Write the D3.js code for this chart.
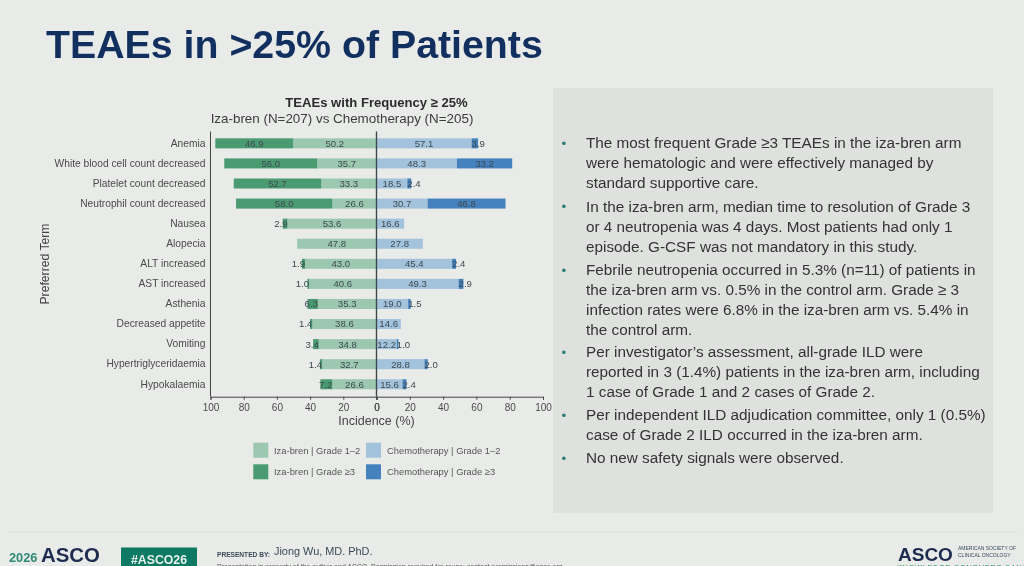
<!DOCTYPE html>
<html>
<head>
<meta charset="utf-8">
<script src="https://cdn.jsdelivr.net/npm/d3@7"></script>
<style>
  html, body { margin: 0; padding: 0; background: #e9ebe9; overflow: hidden; }
  svg { display: block; font-family: "Liberation Sans", Arial, sans-serif; filter: blur(0.35px); }
</style>
</head>
<body>
<div id="chart"></div>
<script>
const categories = ["Anemia", "White blood cell count decreased", "Platelet count decreased",
  "Neutrophil count decreased", "Nausea", "Alopecia", "ALT increased", "AST increased", "Asthenia",
  "Decreased appetite", "Vomiting", "Hypertriglyceridaemia", "Hypokalaemia"];
const izaLow = [50.2, 35.7, 33.3, 26.6, 53.6, 47.8, 43.0, 40.6, 35.3, 38.6, 34.8, 32.7, 26.6];
const izaHigh = [46.9, 56.0, 52.7, 58.0, 2.9, 0, 1.9, 1.0, 6.3, 1.4, 3.4, 1.4, 7.2];
const chemoLow = [57.1, 48.3, 18.5, 30.7, 16.6, 27.8, 45.4, 49.3, 19.0, 14.6, 12.2, 28.8, 15.6];
const chemoHigh = [3.9, 33.2, 2.4, 46.8, 0, 0, 2.4, 2.9, 1.5, 0, 1.0, 2.0, 2.4];
const xTicks = [100, 80, 60, 40, 20, 0];

const bullets = [
  ["The most frequent Grade \u22653 TEAEs in the iza-bren arm", "were hematologic and were effectively managed by", "standard supportive care."],
  ["In the iza-bren arm, median time to resolution of Grade 3", "or 4 neutropenia was 4 days. Most patients had only 1", "episode. G-CSF was not mandatory in this study."],
  ["Febrile neutropenia occurred in 5.3% (n=11) of patients in", "the iza-bren arm vs. 0.5% in the control arm. Grade \u2265 3", "infection rates were 6.8% in the iza-bren arm vs. 5.4% in", "the control arm."],
  ["Per investigator\u2019s assessment, all-grade ILD were", "reported in 3 (1.4%) patients in the iza-bren arm, including", "1 case of Grade 1 and 2 cases of Grade 2."],
  ["Per independent ILD adjudication committee, only 1 (0.5%)", "case of Grade 2 ILD occurred in the iza-bren arm."],
  ["No new safety signals were observed."]
];
const bulletBaselines = [148, 211.5, 275, 357, 420, 463];

const colors = { izaLow: "#9cc7b0", izaHigh: "#4a9a72", chemoLow: "#a3c2dc", chemoHigh: "#4481bd" };
const legendRows = [
  ["Iza-bren | Grade 1\u20132", colors.izaLow, "Chemotherapy | Grade 1\u20132", colors.chemoLow],
  ["Iza-bren | Grade \u22653", colors.izaHigh, "Chemotherapy | Grade \u22653", colors.chemoHigh]
];

const svg = d3.select("#chart").append("svg").attr("width", 1024).attr("height", 566);
svg.append("rect").attr("width", 1024).attr("height", 566).attr("fill", "#e9ebe9");

// slide title
svg.append("text").attr("x", 46).attr("y", 57.5).attr("font-size", 39.3).attr("font-weight", 700)
  .attr("fill", "#12305f").text("TEAEs in >25% of Patients");

// right hand text panel
svg.append("rect").attr("x", 553).attr("y", 88).attr("width", 440).attr("height", 425).attr("fill", "#dfe1df");
const notes = svg.append("g");
bullets.forEach((lines, i) => {
  notes.append("text").attr("x", 561.5).attr("y", bulletBaselines[i] - 0.5).attr("font-size", 13.5)
    .attr("fill", "#2f7f78").text("\u2022");
  lines.forEach((line, j) => {
    notes.append("text").attr("x", 586).attr("y", bulletBaselines[i] + j * 20)
      .attr("font-size", 15.3).attr("fill", "#333").text(line);
  });
});

// chart
const xLeft = d3.scaleLinear().domain([100, 0]).range([210.5, 376.5]);
const xRight = d3.scaleLinear().domain([0, 100]).range([376.5, 543]);
const y = d3.scaleBand().domain(categories).range([133.3, 394.3]).paddingInner(0.5).paddingOuter(0.25);
const rows = categories.map((name, i) => ({ name, i }));

const segments = [
  { side: "left", scale: xLeft, start: () => 0, val: i => izaLow[i], color: colors.izaLow },
  { side: "left", scale: xLeft, start: i => izaLow[i], val: i => izaHigh[i], color: colors.izaHigh },
  { side: "right", scale: xRight, start: () => 0, val: i => chemoLow[i], color: colors.chemoLow },
  { side: "right", scale: xRight, start: i => chemoLow[i], val: i => chemoHigh[i], color: colors.chemoHigh }
];

const chart = svg.append("g");
segments.forEach(seg => {
  const data = rows.filter(d => seg.val(d.i) > 0);
  chart.append("g").selectAll("rect").data(data).join("rect")
    .attr("x", d => Math.min(seg.scale(seg.start(d.i)), seg.scale(seg.start(d.i) + seg.val(d.i))))
    .attr("y", d => y(d.name))
    .attr("width", d => Math.abs(seg.scale(seg.start(d.i) + seg.val(d.i)) - seg.scale(seg.start(d.i))))
    .attr("height", y.bandwidth())
    .attr("fill", seg.color);
});

// axes
const axisY = 396.7;
const styleAxis = g => {
  g.selectAll("path, line").attr("stroke", "#444");
  g.selectAll("text").attr("font-size", 10).attr("fill", "#4a4a4a").attr("font-family", "Liberation Sans");
};
chart.append("g").attr("transform", `translate(0,${axisY})`)
  .call(d3.axisBottom(xLeft).tickValues(xTicks).tickSize(3).tickPadding(4)).call(styleAxis);
chart.append("g").attr("transform", `translate(0,${axisY})`)
  .call(d3.axisBottom(xRight).tickValues(xTicks).tickSize(3).tickPadding(4)).call(styleAxis);
const yAxis = chart.append("g").attr("transform", "translate(210.5,0)")
  .call(d3.axisLeft(y).tickSize(0).tickPadding(5)).call(styleAxis);
yAxis.selectAll("text").attr("font-size", 10.25);
yAxis.select("path").attr("d", `M0,131.5V${axisY}`);
chart.append("line").attr("x1", xLeft(0)).attr("x2", xLeft(0)).attr("y1", 131.5).attr("y2", axisY)
  .attr("stroke", "#3c4a50").attr("stroke-width", 1.4);

// labels wider than their segment hang off its inner edge
const labelWidth = 14;
segments.forEach(seg => {
  const data = rows.filter(d => seg.val(d.i) > 0);
  const isNarrow = d => Math.abs(seg.scale(seg.val(d.i)) - seg.scale(0)) < labelWidth;
  chart.append("g").selectAll("text").data(data).join("text")
    .attr("x", d => isNarrow(d) ? seg.scale(seg.start(d.i)) : seg.scale(seg.start(d.i) + seg.val(d.i) / 2))
    .attr("y", d => y(d.name) + y.bandwidth() / 2)
    .attr("dy", "0.36em")
    .attr("text-anchor", d => !isNarrow(d) ? "middle" : seg.side === "left" ? "end" : "start")
    .attr("font-size", 9.6)
    .attr("fill", "#3c4a50").text(d => seg.val(d.i).toFixed(1));
});

// chart titles
svg.append("text").attr("x", 376.5).attr("y", 107).attr("text-anchor", "middle").attr("font-size", 13.1)
  .attr("font-weight", 700).attr("fill", "#2b2b2b").text("TEAEs with Frequency \u2265 25%");
svg.append("text").attr("x", 342).attr("y", 123).attr("text-anchor", "middle").attr("font-size", 13.4)
  .attr("fill", "#3c3c3c").text("Iza-bren (N=207) vs Chemotherapy (N=205)");
svg.append("text").attr("x", 376.5).attr("y", 424.5).attr("text-anchor", "middle").attr("font-size", 12.5)
  .attr("fill", "#444").text("Incidence (%)");
svg.append("text").attr("transform", "translate(49,264) rotate(-90)").attr("text-anchor", "middle")
  .attr("font-size", 12.2).attr("fill", "#444").text("Preferred Term");

// legend
const legend = svg.append("g");
legendRows.forEach((row, i) => {
  const top = 442.7 + i * 21.6;
  legend.append("rect").attr("x", 253.3).attr("y", top).attr("width", 15).attr("height", 15).attr("fill", row[1]);
  legend.append("text").attr("x", 274).attr("y", top + 11).attr("font-size", 9.4).attr("fill", "#555").text(row[0]);
  legend.append("rect").attr("x", 366).attr("y", top).attr("width", 15).attr("height", 15).attr("fill", row[3]);
  legend.append("text").attr("x", 387).attr("y", top + 11).attr("font-size", 9.4).attr("fill", "#555").text(row[2]);
});

// footer, cut by the bottom of the photo as in the slide
const footer = svg.append("g");
footer.append("line").attr("x1", 9).attr("x2", 1017).attr("y1", 532).attr("y2", 532).attr("stroke", "#dcdfdc");
footer.append("text").attr("x", 9).attr("y", 562).attr("font-size", 12.8).attr("font-weight", 700).attr("fill", "#2e8a72").text("2026");
footer.append("text").attr("x", 41).attr("y", 562).attr("font-size", 20.4).attr("font-weight", 700).attr("fill", "#1d2b4f").text("ASCO");
footer.append("text").attr("x", 9).attr("y", 572).attr("font-size", 9.5).attr("letter-spacing", 0.5).attr("fill", "#2e8a72").text("ANNUAL MEETING");
footer.append("rect").attr("x", 121).attr("y", 547.5).attr("width", 76).attr("height", 19).attr("fill", "#0f7a63");
footer.append("text").attr("x", 159).attr("y", 563.5).attr("text-anchor", "middle").attr("font-size", 12.3).attr("font-weight", 700).attr("fill", "#e8f2ee").text("#ASCO26");
footer.append("text").attr("x", 217).attr("y", 557).attr("font-size", 6.6).attr("font-weight", 700).attr("fill", "#3a4a5a").text("PRESENTED BY:");
footer.append("text").attr("x", 274).attr("y", 555).attr("font-size", 10.9).attr("fill", "#3a4a5a").text("Jiong Wu, MD. PhD.");
footer.append("text").attr("x", 217).attr("y", 569).attr("font-size", 7).attr("fill", "#555").text("Presentation is property of the author and ASCO. Permission required for reuse; contact permissions@asco.org.");
footer.append("text").attr("x", 898).attr("y", 561).attr("font-size", 19).attr("font-weight", 700).attr("fill", "#1d2b4f").text("ASCO");
footer.append("text").attr("x", 958).attr("y", 550).attr("font-size", 5).attr("fill", "#3a4a5a").text("AMERICAN SOCIETY OF");
footer.append("text").attr("x", 958).attr("y", 557).attr("font-size", 5).attr("fill", "#3a4a5a").text("CLINICAL ONCOLOGY");
footer.append("text").attr("x", 897).attr("y", 570).attr("font-size", 7.5).attr("letter-spacing", 0.6).attr("fill", "#2e8a72").text("KNOWLEDGE CONQUERS CANCER");
</script>
</body>
</html>
